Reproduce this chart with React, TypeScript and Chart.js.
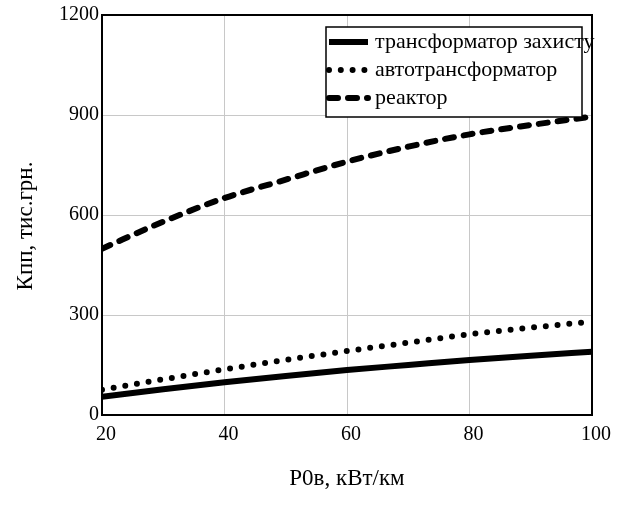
import React, { useEffect, useRef } from "react";
import { Chart, registerables } from "chart.js";
Chart.register(...registerables);

const xValues = [20, 30, 40, 50, 60, 70, 80, 90, 100];
const transformer = [55, 77, 98, 117, 135, 150, 165, 178, 190];
const autotransformer = [76, 107, 137, 165, 192, 217, 242, 262, 280];
const reactor = [499, 580, 651, 706, 760, 805, 842, 870, 895];
const seriesLabels = ["трансформатор захисту", "автотрансформатор", "реактор"];
const xTicks = [20, 40, 60, 80, 100];
const yTicks = [0, 300, 600, 900, 1200];
const xTitle = "P0в, кВт/км";
const yTitle = "Кпп, тис.грн.";

const FONT = '"Liberation Serif", "Times New Roman", serif';

type Style = { width: number; dash: number[]; cap: CanvasLineCap };
const styles: Style[] = [
  { width: 6, dash: [], cap: "butt" },
  { width: 6, dash: [0, 11.8], cap: "round" },
  { width: 6, dash: [9, 10], cap: "round" },
];

const framePlugin = {
  id: "frameLegend",
  afterDraw(chart: any) {
    const { ctx, chartArea } = chart;
    ctx.save();
    ctx.strokeStyle = "#000";
    ctx.lineWidth = 2;
    ctx.setLineDash([]);
    ctx.strokeRect(chartArea.left, chartArea.top, chartArea.right - chartArea.left, chartArea.bottom - chartArea.top);
    // y axis title
    ctx.save();
    ctx.translate(26, 226);
    ctx.rotate(-Math.PI / 2);
    ctx.font = `23px ${FONT}`;
    ctx.fillStyle = "#000";
    ctx.textAlign = "center";
    ctx.textBaseline = "middle";
    ctx.fillText(yTitle, 0, 0);
    ctx.restore();
    // legend
    const bx = 326, by = 27, bw = 256, bh = 90;
    ctx.fillStyle = "#fff";
    ctx.fillRect(bx, by, bw, bh);
    ctx.lineWidth = 1.5;
    ctx.strokeRect(bx, by, bw, bh);
    ctx.font = `22px ${FONT}`;
    ctx.textBaseline = "middle";
    ctx.textAlign = "left";
    seriesLabels.forEach((label, i) => {
      const y = by + 15 + i * 28;
      const s = styles[i];
      ctx.beginPath();
      ctx.lineWidth = s.width;
      ctx.lineCap = s.cap;
      ctx.setLineDash(s.dash);
      ctx.moveTo(bx + 3, y);
      ctx.lineTo(bx + 42, y);
      ctx.stroke();
      ctx.setLineDash([]);
      ctx.fillStyle = "#000";
      ctx.fillText(label, bx + 49, y);
    });
    ctx.restore();
  },
};

export default function App() {
  const ref = useRef<HTMLCanvasElement>(null);
  useEffect(() => {
    document.body.style.margin = "0";
    const series = [transformer, autotransformer, reactor];
    const chart = new Chart(ref.current!, {
      type: "line",
      data: {
        datasets: series.map((vals, i) => ({
          label: seriesLabels[i],
          data: vals.map((v, j) => ({ x: xValues[j], y: v })),
          borderColor: "#000",
          borderWidth: styles[i].width,
          borderDash: styles[i].dash,
          borderCapStyle: styles[i].cap,
          pointRadius: 0,
          fill: false,
          cubicInterpolationMode: "monotone",
        })),
      },
      options: {
        responsive: false,
        animation: false,
        layout: { padding: { top: 13, right: 26, left: 0, bottom: 0 } },
        plugins: { legend: { display: false }, tooltip: { enabled: false } },
        scales: {
          x: {
            type: "linear",
            min: 20,
            max: 100,
            afterBuildTicks: (s: any) => { s.ticks = xTicks.map((v) => ({ value: v })); },
            afterFit: (s: any) => { s.height = 92; },
            grid: { color: "#c8c8c8", lineWidth: 1, drawTicks: false },
            border: { display: false },
            ticks: { color: "#000", font: { family: FONT, size: 20 }, padding: 8, labelOffset: 4, maxRotation: 0, callback: (v: any) => String(v) },
            title: { display: true, text: xTitle, color: "#000", font: { family: FONT, size: 23 }, padding: { bottom: 14 } },
          },
          y: {
            type: "linear",
            min: 0,
            max: 1200,
            afterBuildTicks: (s: any) => { s.ticks = yTicks.map((v) => ({ value: v })); },
            afterFit: (s: any) => { s.width = 102; },
            grid: { color: "#c8c8c8", lineWidth: 1, drawTicks: false },
            border: { display: false },
            ticks: { color: "#000", font: { family: FONT, size: 20 }, padding: 3, callback: (v: any) => String(v) },
            title: { display: false },
          },
        },
      },
      plugins: [framePlugin],
    } as any);
    return () => chart.destroy();
  }, []);
  return (
    <div style={{ width: 618, height: 507 }}>
      <canvas ref={ref} width={618} height={507} />
    </div>
  );
}
